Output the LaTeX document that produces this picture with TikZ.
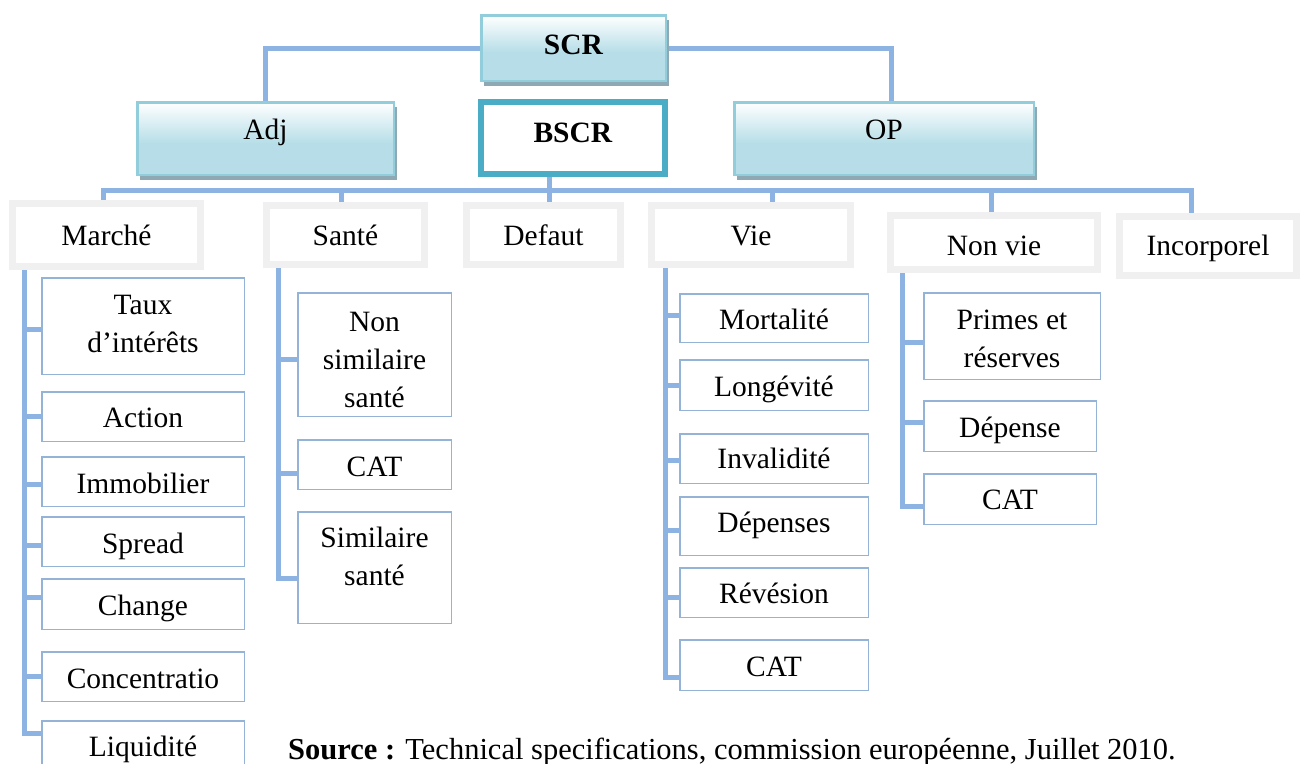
\documentclass[tikz,border=0pt]{standalone}
\usepackage{fontspec}
\setmainfont{Liberation Serif}
\usetikzlibrary{shadows,backgrounds}
\definecolor{connc}{HTML}{8DB3E2}
\definecolor{leafc}{HTML}{95B3D7}
\definecolor{midc}{HTML}{F0F0F0}
\definecolor{topb}{HTML}{92CDDC}
\definecolor{shb}{HTML}{B7DEE8}
\definecolor{shadc}{HTML}{8FA9B4}
\definecolor{bscrc}{HTML}{4BACC6}
\pgfdeclareverticalshading{topshade}{100bp}{color(0bp)=(shb); color(25bp)=(shb); color(47bp)=(shb); color(75bp)=(white); color(100bp)=(white)}
\pgfdeclarelayer{paper}
\pgfsetlayers{paper,background,main}
\tikzset{
  base/.style={inner sep=0pt, outer sep=0pt, align=center,
    font=\fontsize{29.5}{38}\selectfont, text height=24pt, text depth=2pt},
  topbox/.style={base, draw=topb, line width=2.5pt, shade, shading=topshade,
    drop shadow={shadow xshift=3pt, shadow yshift=-5pt, fill=shadc, opacity=1}},
  bscrbox/.style={base, draw=bscrc, line width=6pt, fill=white},
  midbox/.style={base, draw=midc, line width=7pt, fill=white},
  leaf/.style={base, draw=leafc, line width=1.5pt, fill=white},
  conn/.style={draw=connc, line width=5pt, line join=miter},
  sz/.style 2 args={minimum width=#1pt, minimum height=#2pt}
}
\begin{document}
\begin{tikzpicture}[x=1pt,y=-1pt]
\useasboundingbox (0,0) rectangle (1301,763);
\begin{pgfonlayer}{paper}
\fill[white] (0,0) rectangle (1301,763);
\end{pgfonlayer}
\clip (0,0) rectangle (1301,763);
% top level
\node[topbox, sz={184.5}{65.5}, text depth=12pt] (scr) at (573.5,48) {\textbf{SCR}};
\node[topbox, sz={256.5}{72.5}, text depth=23pt] (adj) at (265.5,138.5) {Adj};
\node[bscrbox, sz={184}{72}, text depth=16pt] (bscr) at (573,138) {\textbf{BSCR}};
\node[topbox, sz={299.5}{72.5}, text depth=23pt] (op) at (884,138.5) {OP};
% second level
\node[midbox, sz={188}{63}, text depth=4pt] (marche) at (106.5,235) {Marché};
\node[midbox, sz={158}{59}, text depth=4pt] (sante) at (345.5,235) {Santé};
\node[midbox, sz={154}{59}, text depth=4pt] (defaut) at (543.5,235) {Defaut};
\node[midbox, sz={199}{59}, text depth=4pt] (vie) at (751,235) {Vie};
\node[midbox, sz={207}{54}, text height=26pt, text depth=1pt] (nonvie) at (994,242.5) {Non vie};
\node[midbox, sz={177}{59}, text depth=6pt] (incorp) at (1208,246) {Incorporel};
% Marche children
\node[leaf, sz={202.5}{96.5}, text height=54pt] (taux) at (143,326) {Taux\\d’intérêts};
\node[leaf, sz={202.5}{49.5}] (action) at (143,416.5) {Action};
\node[leaf, sz={202.5}{49.5}, text depth=1pt] (immob) at (143,481.5) {Immobilier};
\node[leaf, sz={202.5}{49.5}, text depth=1pt] (spread) at (143,541.5) {Spread};
\node[leaf, sz={202.5}{50.5}] (change) at (143,604) {Change};
\node[leaf, sz={202.5}{49.5}, text depth=1pt] (concen) at (143,676.5) {Concentratio};
\node[leaf, sz={202.5}{49.5}] (liq) at (143,745.5) {Liquidité};
% Sante children
\node[leaf, sz={153.5}{123.5}, text height=107pt] (nsim) at (374.5,354.5) {Non\\similaire\\santé};
\node[leaf, sz={153.5}{49.5}, text depth=1pt] (cats) at (374.5,464.5) {CAT};
\node[leaf, sz={153.5}{111.5}, text height=37pt] (sim) at (374.5,567.5) {Similaire\\santé};
% Vie children
\node[leaf, sz={188.5}{48.5}] (mort) at (774,318) {Mortalité};
\node[leaf, sz={188.5}{50.5}] (long) at (774,385) {Longévité};
\node[leaf, sz={188.5}{49.5}, text depth=5pt] (inval) at (774,458.5) {Invalidité};
\node[leaf, sz={188.5}{58.5}, text depth=12pt] (depv) at (774,526) {Dépenses};
\node[leaf, sz={188.5}{49.5}] (rev) at (774,592.5) {Révésion};
\node[leaf, sz={188.5}{50.5}] (catv) at (774,665) {CAT};
% Non vie children
\node[leaf, sz={176.5}{86.5}, text height=64pt] (primes) at (1012,336) {Primes et\\réserves};
\node[leaf, sz={172.5}{50.5}] (depn) at (1010,426) {Dépense};
\node[leaf, sz={172.5}{50.5}, text depth=4pt] (catn) at (1010,499) {CAT};
% source
\node[anchor=base west, inner sep=0pt, font=\fontsize{30.5}{38}\selectfont] (src) at (288,759)
  {\textbf{Source :} Technical specifications, commission européenne, Juillet 2010.};
% connectors
\begin{scope}[on background layer]
\coordinate (busL) at (103,190);
\coordinate (busR) at (1191,190);
\draw[conn] (scr.west) -| (adj.north);
\draw[conn] (scr.east) -| ([xshift=7pt]op.north);
\draw[conn] ([xshift=-3.5pt]marche.north) |- (busR) -- ([xshift=-17pt]incorp.north);
\draw[conn] ([xshift=-24pt]bscr.south) -- ([xshift=5.5pt]defaut.north);
\draw[conn] ([xshift=-4.5pt]sante.north) |- (busL);
\draw[conn] ([xshift=21pt]vie.north) |- (busL);
\draw[conn] ([xshift=-3pt]nonvie.north) |- (busL);
\coordinate (mx) at ([xshift=11.5pt]marche.south west);
\coordinate (sx) at ([xshift=11.5pt]sante.south west);
\coordinate (vx) at ([xshift=13.5pt]vie.south west);
\coordinate (nx) at ([xshift=11.5pt]nonvie.south west);
\foreach \n/\s in {taux/-3,action/0,immob/-2.5,spread/-3.5,change/7,concen/0,liq/12.5}
  \draw[conn] ([yshift=\s pt]\n.west) -| (mx);
\foreach \n/\s in {nsim/-4.5,cats/-8.5,sim/-10.5}
  \draw[conn] ([yshift=\s pt]\n.west) -| (sx);
\foreach \n/\s in {mort/3,long/0,inval/-1.5,depv/-4,rev/-4.5,catv/-12}
  \draw[conn] ([yshift=\s pt]\n.west) -| (vx);
\foreach \n/\s in {primes/-6,depn/4,catn/-7}
  \draw[conn] ([yshift=\s pt]\n.west) -| (nx);
\end{scope}
\end{tikzpicture}
\end{document}
